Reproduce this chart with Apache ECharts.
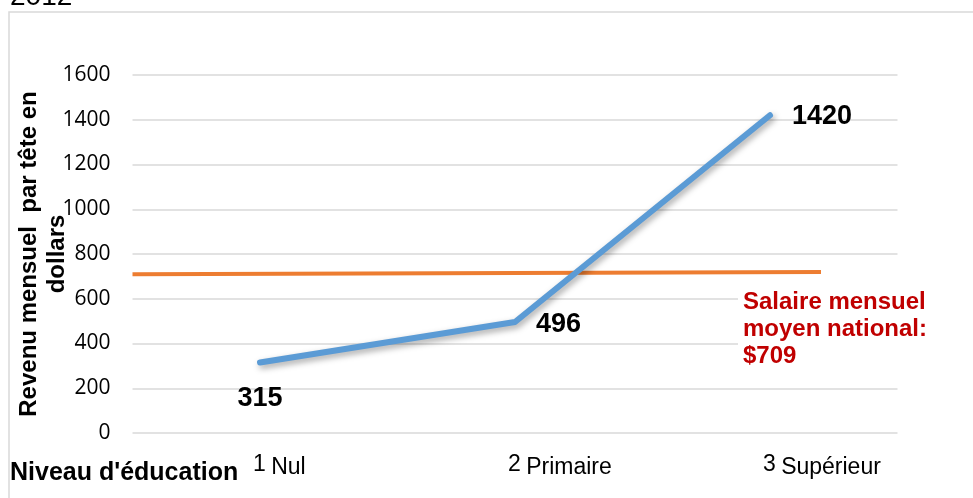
<!DOCTYPE html>
<html>
<head>
<meta charset="utf-8">
<script src="https://cdn.jsdelivr.net/npm/echarts@6/dist/echarts.min.js"></script>
<style>
  html, body { margin: 0; padding: 0; background: #fff; }
  #chart { width: 973px; height: 498px; }
</style>
</head>
<body>
<div id="chart"></div>
<script>
// education levels on the x axis
const levelNums = ['1', '2', '3'];
const levelNames = ['Nul', 'Primaire', 'Supérieur'];
// monthly income per head (dollars)
const incomes = [315, 496, 1420];
// national average salary line: [x position on 0..3 scale, value]
const avgLine = [[0, 710], [2.7, 720]];
const yTicks = { min: 0, max: 1600, step: 200 };

const chart = echarts.init(document.getElementById('chart'));

const labelFont = 'Arial, "Liberation Sans", sans-serif';

const option = {
    backgroundColor: '#fff',
    animation: false,
    grid: { left: 132.5, right: 75.5, top: 75, bottom: 65, containLabel: false, outerBoundsMode: 'none' },
    xAxis: [
        {
            type: 'category',
            data: levelNames.map((n, i) => levelNums[i] + '|' + n),
            boundaryGap: true,
            axisLine: { show: false },
            axisTick: { show: false },
            axisLabel: {
                align: 'left',
                margin: 16,
                padding: [0, 0, 0, -7],
                formatter: function (v) {
                    const p = v.split('|');
                    return '{n|' + p[0] + '} {t|' + p[1] + '}';
                },
                rich: {
                    n: { fontSize: 23, fontFamily: labelFont, color: '#000', verticalAlign: 'bottom', lineHeight: 30, padding: [0, 2, 3, 0] },
                    t: { fontSize: 23, fontFamily: labelFont, color: '#000', verticalAlign: 'bottom', lineHeight: 30 }
                }
            }
        },
        { type: 'value', min: 0, max: 3, show: false }
    ],
    yAxis: {
        type: 'value',
        min: yTicks.min,
        max: yTicks.max,
        interval: yTicks.step,
        name: 'Revenu mensuel  par tête en\ndollars',
        nameLocation: 'middle',
        nameGap: 61,
        nameMoveOverlap: false,
        nameTextStyle: {
            fontSize: 24, fontWeight: 'bold', fontFamily: labelFont, color: '#000', lineHeight: 28
        },
        axisLine: { show: false },
        axisTick: { show: false },
        axisLabel: {
            fontSize: 21, fontFamily: '"Open Sans", sans-serif', color: '#000', margin: 22,
            formatter: v => String(v)
        },
        splitLine: { lineStyle: { color: '#d9d9d9', width: 1.5 } }
    },
    series: [
        {
            type: 'line',
            name: 'Revenu',
            data: incomes.map((v, i) => {
                const pos = [
                    { position: 'bottom', distance: 22 },
                    { position: 'right', distance: 20, offset: [0, 3] },
                    { position: 'right', distance: 21, offset: [0, 1] }
                ][i];
                return { value: v, label: pos };
            }),
            symbol: 'circle',
            symbolSize: 2,
            showSymbol: true,
            itemStyle: { color: 'rgba(0,0,0,0)', borderWidth: 0 },
            lineStyle: {
                color: '#5b9bd5', width: 6, cap: 'round', join: 'round',
                shadowColor: 'rgba(0,0,0,0.35)', shadowBlur: 6, shadowOffsetX: 2, shadowOffsetY: 3
            },
            label: {
                show: true,
                fontSize: 27, fontWeight: 'bold', fontFamily: labelFont, color: '#000'
            },
            z: 3
        },
        {
            type: 'line',
            name: 'Moyenne nationale',
            xAxisIndex: 1,
            data: avgLine,
            symbol: 'none',
            lineStyle: { color: '#ed7d31', width: 4 },
            z: 2
        }
    ],
    graphic: [
        {
            type: 'rect',
            shape: { x: 9, y: 12, width: 1100, height: 600 },
            style: { fill: 'none', stroke: '#d9d9d9', lineWidth: 1.5 },
            silent: true
        },
        {
            type: 'text',
            style: { x: 10, y: 11, text: '2012', font: '28px Arial, "Liberation Sans", sans-serif', fill: '#000', verticalAlign: 'bottom' }
        },
        {
            type: 'text',
            style: { x: 10, y: 461, text: "Niveau d'éducation", font: 'bold 25px Arial, "Liberation Sans", sans-serif', fill: '#000', verticalAlign: 'top' }
        },
        {
            type: 'text',
            z: 10,
            style: {
                x: 738, y: 287,
                text: 'Salaire mensuel\nmoyen national:\n$709',
                font: 'bold 24px Arial, "Liberation Sans", sans-serif',
                lineHeight: 27, fill: '#c00000', verticalAlign: 'top',
                backgroundColor: '#fff', padding: [2, 4, 2, 5]
            }
        }
    ]
};

chart.setOption(option);
</script>
</body>
</html>
